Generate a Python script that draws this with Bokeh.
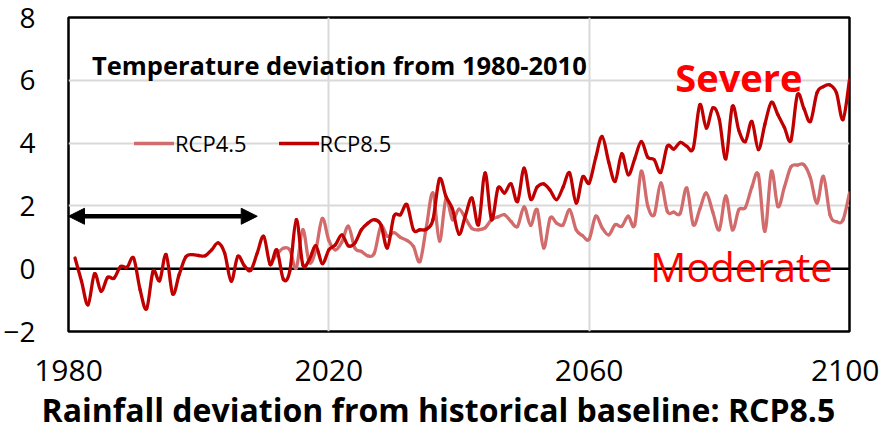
from bokeh.plotting import figure
from bokeh.models import (Range1d, FixedTicker, Span, Arrow, NormalHead, Label,
                          Legend, LegendItem, ColumnDataSource, Title)
from bokeh.embed import file_html
from bokeh.resources import INLINE

# ---------------- data ----------------
years_85 = list(range(1981, 2101))
rcp85 = [
    0.34, -0.40, -1.15, -0.16, -0.72, -0.28, -0.30, 0.07, 0.05, 0.34,
    -0.67, -1.28, -0.08, -0.38, 0.45, -0.80, -0.19, 0.37, 0.45, 0.42,
    0.41, 0.60, 0.82, 0.49, -0.40, 0.39, 0.10, -0.05, 0.50, 1.03,
    0.13, 0.60, -0.33, -0.08, 1.56, 0.13, 0.29, 0.73, 0.16, 0.60,
    0.76, 1.08, 0.73, 0.82, 1.24, 1.45, 1.56, 1.40, 0.66, 1.67,
    1.72, 2.04, 1.24, 1.24, 1.26, 1.56, 2.86, 2.30, 1.90, 1.10,
    1.70, 2.25, 1.40, 3.05, 1.56, 2.57, 2.41, 2.70, 2.14, 3.20,
    2.22, 2.60, 2.70, 2.50, 2.20, 2.60, 3.05, 2.09, 2.92, 2.73,
    3.53, 4.21, 3.40, 2.78, 3.66, 2.99, 3.50, 4.05, 3.55, 3.47,
    3.07, 3.90, 3.81, 4.02, 3.90, 3.84, 5.22, 4.48, 5.12, 4.75,
    3.50, 5.17, 4.40, 4.05, 4.69, 3.79, 4.60, 5.30, 4.90, 4.50,
    4.09, 5.54, 5.10, 4.69, 5.60, 5.80, 5.85, 5.60, 4.75, 6.02,
]
years_45 = list(range(2011, 2101))
rcp45 = [
    0.15, 0.45, 0.65, 0.60, 0.02, 1.24, 0.20, 0.60, 1.60, 0.90,
    0.60, 0.85, 1.35, 0.66, 0.55, 0.41, 0.50, 1.35, 1.03, 1.15,
    1.00, 0.90, 0.71, 0.23, 1.35, 2.41, 0.88, 2.22, 1.56, 1.90,
    1.60, 1.28, 1.24, 1.30, 1.56, 1.65, 1.72, 1.50, 1.35, 1.97,
    1.38, 1.88, 0.66, 1.61, 1.45, 1.40, 1.88, 1.24, 1.05, 0.94,
    1.67, 1.30, 1.08, 1.40, 1.35, 1.67, 1.40, 3.10, 2.00, 1.72,
    2.73, 1.83, 1.80, 1.77, 2.57, 1.40, 1.90, 2.41, 1.80, 1.24,
    2.32, 1.24, 1.88, 1.95, 2.60, 2.99, 1.19, 3.10, 1.98, 2.60,
    3.24, 3.30, 3.31, 2.89, 2.09, 2.94, 1.72, 1.50, 1.55, 2.41,
]
x_ticks = [1980, 2020, 2060, 2100]
y_ticks = [-2, 0, 2, 4, 6, 8]
baseline_period = [1980, 2009]
baseline_arrow_y = 1.67
series_names = ["RCP4.5", "RCP8.5"]

title_text = "Temperature deviation from 1980-2010"
x_title = "Rainfall deviation from historical baseline: RCP8.5"

DARK = "#C00000"
LIGHT = "#D26B6B"
FONT = "Open Sans"


def smooth_source(xs, ys):
    """Cubic Bezier segments (Catmull-Rom style) as Excel's smoothed line."""
    n = len(xs)
    d = dict(x0=[], y0=[], x1=[], y1=[], cx0=[], cy0=[], cx1=[], cy1=[])
    for i in range(n - 1):
        a = i - 1 if i > 0 else i
        b = i + 2 if i + 2 < n else i + 1
        d["x0"].append(xs[i]); d["y0"].append(ys[i])
        d["x1"].append(xs[i + 1]); d["y1"].append(ys[i + 1])
        d["cx0"].append(xs[i] + (xs[i + 1] - xs[a]) / 6.0)
        d["cy0"].append(ys[i] + (ys[i + 1] - ys[a]) / 6.0)
        d["cx1"].append(xs[i + 1] - (xs[b] - xs[i]) / 6.0)
        d["cy1"].append(ys[i + 1] - (ys[b] - ys[i]) / 6.0)
    return ColumnDataSource(d)


p = figure(frame_width=781, frame_height=314,
           min_border_left=59, min_border_right=30,
           min_border_top=17, min_border_bottom=96,
           x_range=Range1d(1980, 2100), y_range=Range1d(-2, 8),
           output_backend="svg", toolbar_location=None,
           background_fill_color="white", border_fill_color="white")

p.outline_line_color = "black"
p.outline_line_width = 2.5

# grids
p.xgrid.ticker = FixedTicker(ticks=[2020, 2060])
p.ygrid.ticker = FixedTicker(ticks=[2, 4, 6])
for g in (p.xgrid, p.ygrid):
    g.grid_line_color = "#D9D9D9"
    g.grid_line_width = 2

# axes
p.xaxis.ticker = FixedTicker(ticks=x_ticks)
p.yaxis.ticker = FixedTicker(ticks=y_ticks)
for ax in (p.xaxis, p.yaxis):
    ax.axis_line_color = None
    ax.major_tick_line_color = None
    ax.minor_tick_line_color = None
    ax.major_label_text_font = FONT
    ax.major_label_text_color = "black"
p.yaxis.major_label_text_font_size = "28px"
p.xaxis.major_label_text_font_size = "30px"
p.yaxis.major_label_standoff = 27
p.xaxis.major_label_standoff = 22

# x-axis title (shifted left, as in the original)
p.add_layout(Title(text=x_title, align="left", offset=-27, standoff=4,
                   text_font=FONT, text_font_style="bold",
                   text_font_size="32px", text_color="black"), "below")

# zero line
p.add_layout(Span(location=0, dimension="width", line_color="black",
                  line_width=2.5, level="underlay"))

# series
r45 = p.bezier(x0="x0", y0="y0", x1="x1", y1="y1", cx0="cx0", cy0="cy0",
               cx1="cx1", cy1="cy1", source=smooth_source(years_45, rcp45),
               line_color=LIGHT, line_width=3.3, line_cap="round")
r85 = p.bezier(x0="x0", y0="y0", x1="x1", y1="y1", cx0="cx0", cy0="cy0",
               cx1="cx1", cy1="cy1", source=smooth_source(years_85, rcp85),
               line_color=DARK, line_width=3.3, line_cap="round")

legend = Legend(items=[LegendItem(label=series_names[0], renderers=[r45]),
                       LegendItem(label=series_names[1], renderers=[r85])],
                orientation="horizontal", location=(66, 173),
                border_line_alpha=0, background_fill_alpha=0,
                label_text_font=FONT, label_text_font_size="22px",
                label_text_color="black",
                glyph_width=40, glyph_height=20, label_standoff=1,
                spacing=32, padding=0, margin=0)
p.add_layout(legend)

# baseline arrow
p.add_layout(Arrow(x_start=baseline_period[0], y_start=baseline_arrow_y,
                   x_end=baseline_period[1], y_end=baseline_arrow_y,
                   start=NormalHead(size=16, fill_color="black", line_color="black"),
                   end=NormalHead(size=16, fill_color="black", line_color="black"),
                   line_color="black", line_width=4.5))

# texts
p.add_layout(Label(x=1983.6, y=6.5, text=title_text, text_font=FONT,
                   text_font_style="bold", text_font_size="25.5px",
                   text_color="black", text_baseline="alphabetic",
                   text_align="left"))
p.add_layout(Label(x=2083, y=6.12, text="Severe", text_font=FONT,
                   text_font_style="bold", text_font_size="38px",
                   text_color="#FF0000", text_baseline="alphabetic",
                   text_align="center"))
p.add_layout(Label(x=2083.4, y=0.07, text="Moderate", text_font=FONT,
                   text_font_size="40px", text_color="#FF0000",
                   text_baseline="alphabetic", text_align="center"))

open("out.html", "w").write(file_html(p, INLINE))
